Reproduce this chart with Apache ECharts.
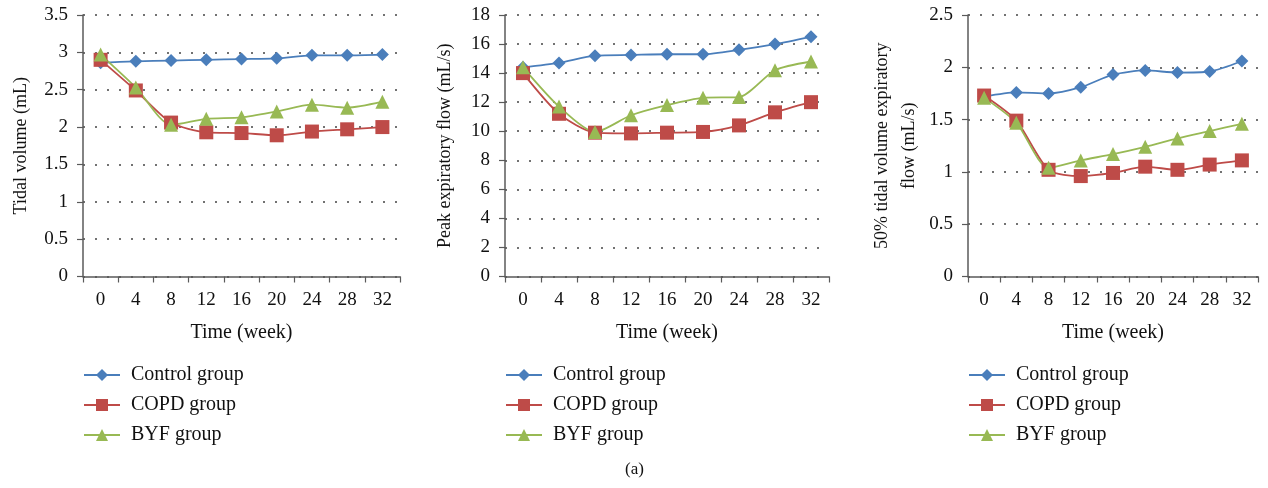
<!DOCTYPE html>
<html><head><meta charset="utf-8">
<script src="https://cdn.jsdelivr.net/npm/echarts@6/dist/echarts.min.js"></script>
<style>html,body{margin:0;padding:0;background:#fff}#c{width:1268px;height:488px}</style>
</head><body><div id="c"></div>
<script>
const weeks = ['0','4','8','12','16','20','24','28','32'];
const groups = ['Control group','COPD group','BYF group'];
// Panel 1: Tidal volume (mL)
const tvControl = [2.86, 2.88, 2.89, 2.90, 2.91, 2.92, 2.96, 2.96, 2.97];
const tvCOPD    = [2.90, 2.49, 2.06, 1.93, 1.92, 1.89, 1.94, 1.97, 2.00];
const tvBYF     = [2.97, 2.53, 2.03, 2.11, 2.13, 2.21, 2.30, 2.26, 2.34];
// Panel 2: Peak expiratory flow (mL/s)
const pefControl = [14.4, 14.7, 15.2, 15.25, 15.3, 15.3, 15.6, 16.0, 16.5];
const pefCOPD    = [14.0, 11.2, 9.9, 9.85, 9.9, 9.95, 10.4, 11.3, 12.0];
const pefBYF     = [14.4, 11.7, 9.95, 11.1, 11.8, 12.3, 12.35, 14.2, 14.8];
// Panel 3: 50% tidal volume expiratory flow (mL/s)
const tefControl = [1.72, 1.76, 1.75, 1.81, 1.93, 1.97, 1.95, 1.96, 2.06];
const tefCOPD    = [1.73, 1.49, 1.02, 0.96, 0.99, 1.05, 1.02, 1.07, 1.11];
const tefBYF     = [1.71, 1.47, 1.04, 1.11, 1.17, 1.24, 1.32, 1.39, 1.46];

const colors = ['#4a7ebb', '#be4b48', '#98b954'];
const symbols = ['diamond', 'rect', 'triangle'];
const symbolSizes = [13, 14, 14];
const FONT = 'Liberation Serif';
const axisColor = '#5a5a5a';

const panels = [
  {left: 83, width: 317, max: 3.5, interval: 0.5, name: 'Tidal volume (mL)', nameGap: 48, data: [tvControl, tvCOPD, tvBYF]},
  {left: 505, width: 324, max: 18, interval: 2, name: 'Peak expiratory flow (mL/s)', nameGap: 46, data: [pefControl, pefCOPD, pefBYF]},
  {left: 968, width: 290, max: 2.5, interval: 0.5, name: '50% tidal volume expiratory\nflow (mL/s)', nameGap: 45, data: [tefControl, tefCOPD, tefBYF]}
];

const grid = [], xAxis = [], yAxis = [], series = [], legend = [];
panels.forEach((p, i) => {
  grid.push({left: p.left, width: p.width, top: 15, height: 261.5});
  xAxis.push({
    type: 'category', gridIndex: i, data: weeks, boundaryGap: true,
    name: 'Time (week)', nameLocation: 'middle', nameGap: 46,
    nameTextStyle: {fontFamily: FONT, fontSize: 20, color: '#111'},
    axisLine: {lineStyle: {color: axisColor, width: 1.5}},
    axisTick: {show: true, alignWithLabel: false, length: 6, lineStyle: {color: axisColor, width: 1.2}},
    axisLabel: {fontFamily: FONT, fontSize: 19, color: '#111', margin: 14}
  });
  yAxis.push({
    type: 'value', gridIndex: i, min: 0, max: p.max, interval: p.interval,
    name: p.name, nameLocation: 'middle', nameGap: p.nameGap, nameRotate: 90,
    nameTextStyle: {fontFamily: FONT, fontSize: 18, color: '#111', lineHeight: 27},
    axisLine: {show: true, lineStyle: {color: axisColor, width: 1.5}},
    axisTick: {show: true, length: 6, lineStyle: {color: axisColor, width: 1.2}},
    axisLabel: {fontFamily: FONT, fontSize: 19, color: '#111', margin: 15},
    splitLine: {show: true, lineStyle: {color: '#444', type: [2, 10], width: 1.6}}
  });
  p.data.forEach((d, k) => {
    series.push({
      type: 'line', name: groups[k], xAxisIndex: i, yAxisIndex: i, data: d,
      smooth: 0.25, symbol: symbols[k], symbolSize: symbolSizes[k],
      itemStyle: {color: colors[k]}, lineStyle: {color: colors[k], width: 1.8},
      legendHoverLink: false
    });
  });
});

panels.forEach((p, i) => {
  legend.push({
    orient: 'vertical', left: p.left - 5, top: 360, itemGap: 10,
    itemWidth: 36, itemHeight: 15,
    textStyle: {fontFamily: FONT, fontSize: 20, color: '#111', padding: [0, 0, 0, 6]},
    data: groups.slice(),
    selectedMode: false
  });
});

const chart = echarts.init(document.getElementById('c'), null, {renderer: 'canvas'});
chart.setOption({
  animation: false,
  grid, xAxis, yAxis, series, legend,
  graphic: [{type: 'text', left: 625, top: 461, style: {text: '(a)', fontFamily: FONT, fontSize: 17, fill: '#111'}}]
});
</script></body></html>
